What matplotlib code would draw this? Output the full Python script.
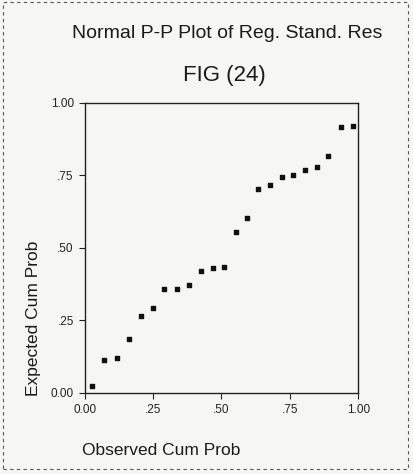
import matplotlib.pyplot as plt
from matplotlib.patches import Rectangle

plt.rcParams['font.family'] = ['Liberation Sans', 'DejaVu Sans']

# 讀取自圖上的點
observed = [0.026, 0.070, 0.117, 0.161, 0.205, 0.249, 0.290, 0.337, 0.381, 0.425,
            0.468, 0.509, 0.553, 0.593, 0.634, 0.678, 0.720, 0.762, 0.806, 0.850,
            0.890, 0.938, 0.980]
expected = [0.024, 0.114, 0.121, 0.186, 0.265, 0.293, 0.358, 0.359, 0.372, 0.420,
            0.430, 0.435, 0.555, 0.603, 0.703, 0.717, 0.745, 0.752, 0.769, 0.779,
            0.817, 0.917, 0.921]
tick_vals = [0.0, 0.25, 0.5, 0.75, 1.0]
tick_labels = ["0.00", ".25", ".50", ".75", "1.00"]

fig = plt.figure(figsize=(4.14, 4.74), dpi=100, facecolor='#f6f6f4')
ax = fig.add_axes([0.205, 0.171, 0.66, 0.612])
ax.set_facecolor('#f6f6f4')

ax.scatter(observed, expected, marker='s', s=12, color='#111111', zorder=3)

ax.set_xlim(0, 1)
ax.set_ylim(0, 1)
ax.set_xticks(tick_vals)
ax.set_xticklabels(tick_labels)
ax.set_yticks(tick_vals)
ax.set_yticklabels(tick_labels)
ax.tick_params(direction='out', length=4, width=0.8, labelsize=8.5, colors='#222222', pad=4)
for sp in ax.spines.values():
    sp.set_linewidth(1.0)
    sp.set_color('#222222')

fig.text(0.548, 0.93, "Normal P-P Plot of Reg. Stand. Res", ha='center', va='center',
         fontsize=14, color='#1a1a1a')
fig.text(0.541, 0.84, "FIG (24)", ha='center', va='center', fontsize=16, color='#1a1a1a')
fig.text(0.08, 0.329, "Expected Cum Prob", ha='center', va='center', rotation=90,
         fontsize=12.5, color='#1a1a1a')
fig.text(0.39, 0.05, "Observed Cum Prob", ha='center', va='center',
         fontsize=12.5, color='#1a1a1a')

# 掃描的虛線邊框
fig.patches.append(Rectangle((0.008, 0.01), 0.977, 0.985, transform=fig.transFigure,
                             fill=False, linestyle=(0, (3, 3)), linewidth=0.8,
                             edgecolor='#555555'))

fig.savefig("out.png", dpi=100, facecolor=fig.get_facecolor())
